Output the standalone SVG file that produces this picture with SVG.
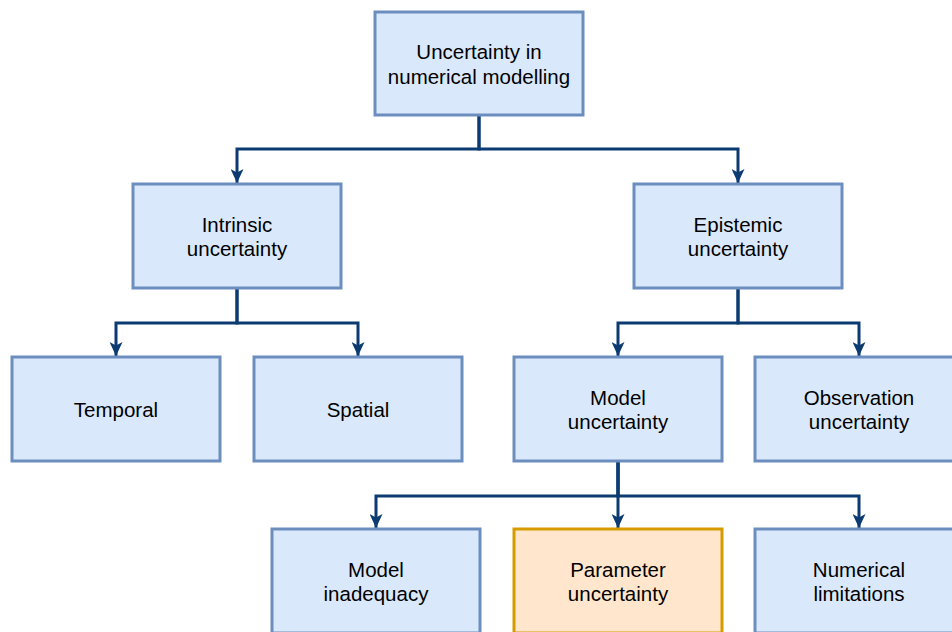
<svg xmlns="http://www.w3.org/2000/svg" width="952" height="632" viewBox="0 0 952 632">
<style>
.box{fill:#dae8fc;stroke:#6c8ebf;stroke-width:3}
.hl{fill:#ffe6cc;stroke:#d79b00;stroke-width:3}
.lbl{font-family:"Liberation Sans",Arial,sans-serif;font-size:20.5px;fill:#000;text-anchor:middle}
.con{fill:none;stroke:#0b3b70;stroke-width:3;stroke-linejoin:miter;marker-end:url(#arr)}
</style>
<defs>
<marker id="arr" markerUnits="userSpaceOnUse" markerWidth="15" markerHeight="13" viewBox="0 0 15 13" refX="14" refY="6.5" orient="auto">
<path d="M0,0 L14,6.5 L0,13 L3.5,6.5 Z" fill="#0b3b70"/>
</marker>
</defs>
<rect width="952" height="632" fill="#ffffff"/>
<g id="connectors">
<path class="con" d="M479,115 V149 H237 V183"/>
<path class="con" d="M479,115 V149 H738 V183"/>
<path class="con" d="M237,288 V323 H116 V356"/>
<path class="con" d="M237,288 V323 H358 V356"/>
<path class="con" d="M738,288 V323 H618 V356"/>
<path class="con" d="M738,288 V323 H859 V356"/>
<path class="con" d="M618,461 V496 H376 V528"/>
<path class="con" d="M618,461 V528"/>
<path class="con" d="M618,461 V496 H859 V528"/>
</g>
<g id="root">
<rect class="box" x="375" y="12" width="208" height="103"/>
<text class="lbl" x="479" y="59">Uncertainty in</text>
<text class="lbl" x="479" y="83.5">numerical modelling</text>
</g>
<g id="intrinsic">
<rect class="box" x="133" y="184" width="208" height="104"/>
<text class="lbl" x="237" y="231.5">Intrinsic</text>
<text class="lbl" x="237" y="256">uncertainty</text>
</g>
<g id="epistemic">
<rect class="box" x="634" y="184" width="208" height="104"/>
<text class="lbl" x="738" y="231.5">Epistemic</text>
<text class="lbl" x="738" y="256">uncertainty</text>
</g>
<g id="temporal">
<rect class="box" x="12" y="357" width="208" height="104"/>
<text class="lbl" x="116" y="416.5">Temporal</text>
</g>
<g id="spatial">
<rect class="box" x="254" y="357" width="208" height="104"/>
<text class="lbl" x="358" y="416.5">Spatial</text>
</g>
<g id="model">
<rect class="box" x="514" y="357" width="208" height="104"/>
<text class="lbl" x="618" y="404.5">Model</text>
<text class="lbl" x="618" y="429">uncertainty</text>
</g>
<g id="observation">
<rect class="box" x="755" y="357" width="208" height="104"/>
<text class="lbl" x="859" y="404.5">Observation</text>
<text class="lbl" x="859" y="429">uncertainty</text>
</g>
<g id="inadequacy">
<rect class="box" x="272" y="529" width="208" height="104"/>
<text class="lbl" x="376" y="576.5">Model</text>
<text class="lbl" x="376" y="601">inadequacy</text>
</g>
<g id="parameter">
<rect class="hl" x="514" y="529" width="208" height="104"/>
<text class="lbl" x="618" y="576.5">Parameter</text>
<text class="lbl" x="618" y="601">uncertainty</text>
</g>
<g id="numerical">
<rect class="box" x="755" y="529" width="208" height="104"/>
<text class="lbl" x="859" y="576.5">Numerical</text>
<text class="lbl" x="859" y="601">limitations</text>
</g>
</svg>
